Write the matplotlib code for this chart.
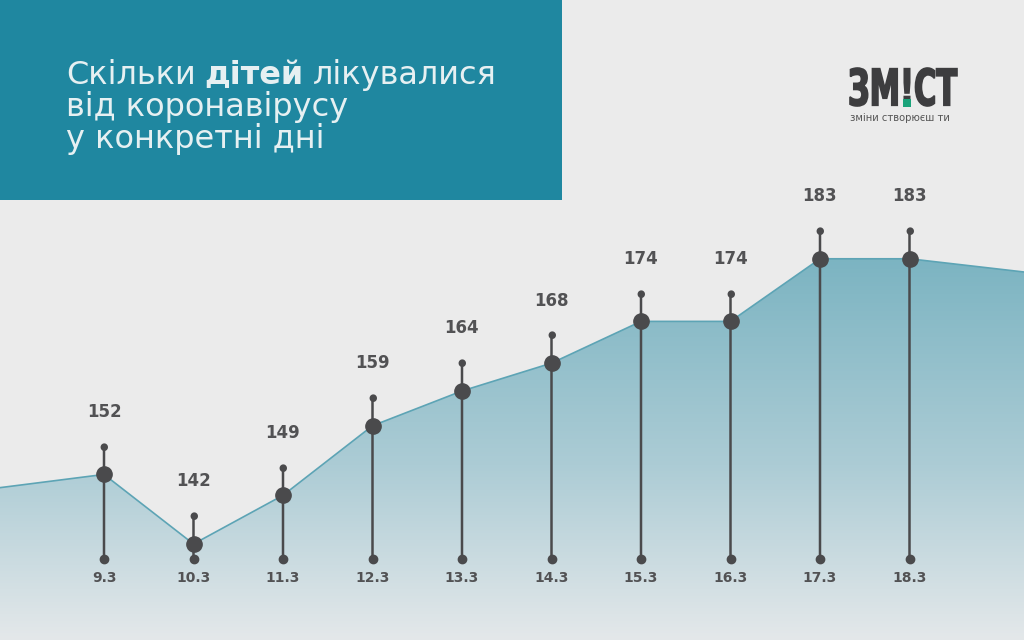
import numpy as np
import matplotlib.pyplot as plt
from matplotlib.patches import Polygon, Rectangle, PathPatch
from matplotlib.colors import LinearSegmentedColormap
from matplotlib.textpath import TextPath
from matplotlib.font_manager import FontProperties
import matplotlib.transforms as mtransforms

# data
dates = ['9.3', '10.3', '11.3', '12.3', '13.3', '14.3', '15.3', '16.3', '17.3', '18.3']
children = [152, 142, 149, 159, 164, 168, 174, 174, 183, 183]
# the filled area runs on past the first and last day
edge_left = 150.1
edge_right = 181.1

BG = '#ebebeb'
TEAL = '#1f87a0'
DARK = '#4a4a4c'
LABEL = '#525254'

plt.rcParams['font.family'] = ['DejaVu Sans']

fig = plt.figure(figsize=(10.24, 6.4), dpi=100)
fig.patch.set_facecolor(BG)
ax = fig.add_axes([0, 0, 1, 1])
ax.set_facecolor(BG)

x = np.arange(len(dates))
xmin, xmax = -104 / 89.5, (1024 - 104) / 89.5
ymin, ymax = 128.2, 220.2
ax.set_xlim(xmin, xmax)
ax.set_ylim(ymin, ymax)
ax.axis('off')

# area with vertical gradient
xs = np.concatenate([[xmin], x, [xmax]])
ys = np.concatenate([[edge_left], children, [edge_right]])
verts = list(zip(xs, ys)) + [(xmax, ymin), (xmin, ymin)]
clip = Polygon(verts, closed=True, facecolor='none', edgecolor='none', transform=ax.transData)
ax.add_patch(clip)
cmap = LinearSegmentedColormap.from_list('area', [(0, '#e4e8ea'), (0.45, '#acccd5'), (1, '#7ab3c1')])
grad = np.linspace(0, 1, 256).reshape(-1, 1)
im = ax.imshow(grad, extent=[xmin, xmax, ymin, 184], origin='lower', aspect='auto',
               cmap=cmap, zorder=1, interpolation='bicubic')
im.set_clip_path(clip)
ax.plot(xs, ys, color='#5da4b5', lw=1.2, zorder=2)

# stems, dots and labels
base = mtransforms.blended_transform_factory(ax.transData, ax.transAxes)
base_y = 1 - 559 / 640
for i, v in enumerate(children):
    ax.annotate('', xy=(i, v), xycoords='data', xytext=(i, base_y), textcoords=base,
                arrowprops=dict(arrowstyle='-', color=DARK, lw=1.8, shrinkA=0, shrinkB=0), zorder=3)
    ax.annotate('', xy=(i, v), xytext=(0, 20), textcoords='offset points',
                arrowprops=dict(arrowstyle='-', color=DARK, lw=1.8, shrinkA=0, shrinkB=0), zorder=3)
    ax.plot([i], [base_y], 'o', color=DARK, ms=6, transform=base, zorder=4)
    ax.plot([i], [v], 'o', color=DARK, ms=11, zorder=5)
    ax.annotate('●', xy=(i, v), xytext=(0, 20), textcoords='offset points',
                ha='center', va='center', color=DARK, fontsize=7, zorder=5)
    ax.annotate(str(v), xy=(i, v), xytext=(0, 45), textcoords='offset points',
                ha='center', va='center', color=LABEL, fontsize=12, fontweight='bold', zorder=5)
    ax.text(i, 1 - 578 / 640, dates[i], transform=base, ha='center', va='center',
            color=LABEL, fontsize=10, fontweight='bold', zorder=5)

# title box
fig.patches.append(Rectangle((0, 1 - 200 / 640), 562 / 1024, 200 / 640, transform=fig.transFigure,
                             facecolor=TEAL, edgecolor='none', zorder=10))
tc = '#e6f0f2'
tsize = 23
renderer = fig.canvas.get_renderer()
xpos = 66
for part, weight in [('Скільки', 'normal'), ('дітей', 'bold'), ('лікувалися', 'normal')]:
    t = fig.text(xpos / 1024, 1 - 84 / 640, part, color=tc, fontsize=tsize, fontweight=weight,
                 va='baseline', zorder=11)
    xpos += t.get_window_extent(renderer).width + 9
fig.text(66 / 1024, 1 - 116 / 640, 'від коронавірусу', color=tc, fontsize=tsize, va='baseline', zorder=11)
fig.text(66 / 1024, 1 - 148 / 640, 'у конкретні дні', color=tc, fontsize=tsize, va='baseline', zorder=11)

# logo: bold word squeezed into its box
bold = FontProperties(family='DejaVu Sans', weight='bold', stretch='condensed')
tp = TextPath((0, 0), 'ЗМ!СТ', size=100, prop=bold)
bb = tp.get_extents()
box_x0, box_x1, box_top, box_base = 850, 957, 68, 106
sx = (box_x1 - box_x0) / bb.width
sy = (box_base - box_top) / bb.height
logo_tr = mtransforms.Affine2D().translate(-bb.x0, -bb.y0).scale(sx, sy).translate(box_x0, 640 - box_base)
fig.patches.append(PathPatch(tp, transform=logo_tr, facecolor='#3d3d3f', edgecolor='#3d3d3f',
                             lw=1.2, zorder=11))
# green dot of the "!"
w1 = TextPath((0, 0), 'ЗМ!', size=100, prop=bold).get_extents().x1
ex = TextPath((0, 0), '!', size=100, prop=bold).get_extents()
gx = box_x0 + (w1 - ex.width - bb.x0) * sx
fig.patches.append(Rectangle((gx - 1, 640 - box_base - 0.5), ex.width * sx + 2, 8,
                             transform=mtransforms.IdentityTransform(),
                             facecolor='#1aa37a', edgecolor='none', zorder=12))
fig.text(850 / 1024, 1 - 121 / 640, 'зміни створюєш ти', color='#555555', fontsize=7.2,
         va='baseline', zorder=11)

fig.savefig('out.png', dpi=100, facecolor=BG)
